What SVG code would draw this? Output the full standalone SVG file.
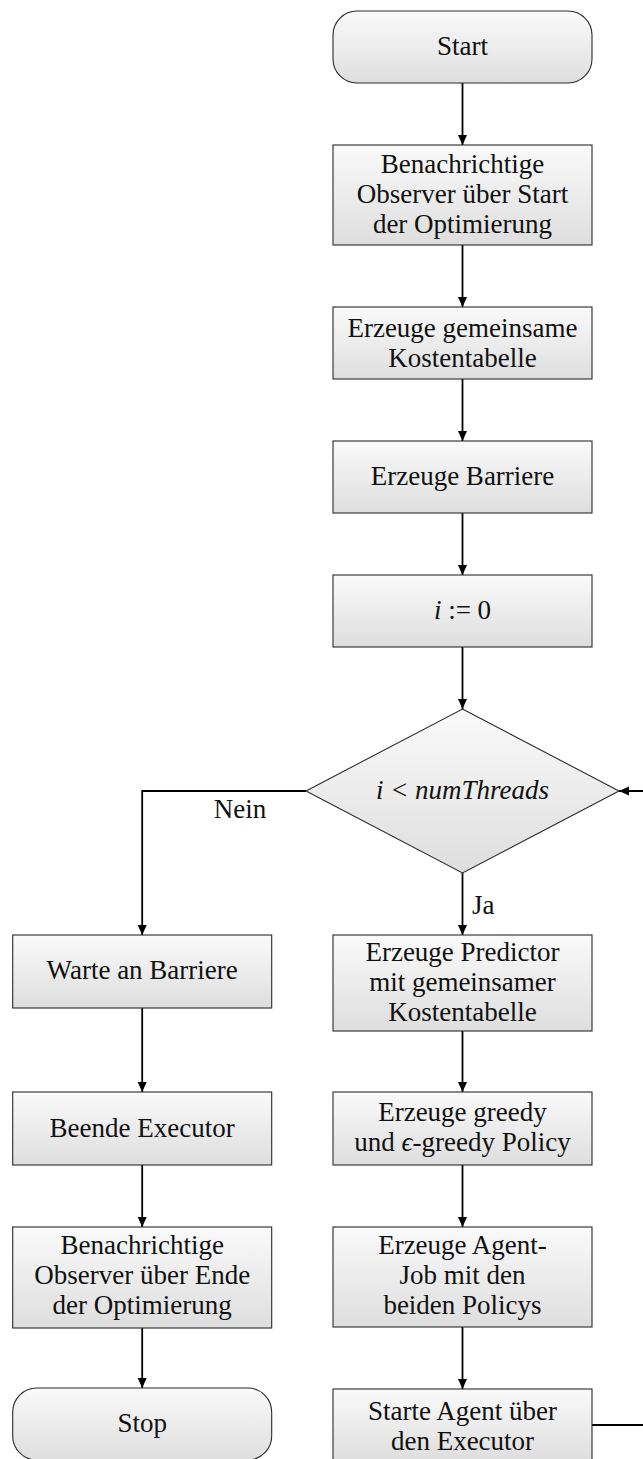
<svg xmlns="http://www.w3.org/2000/svg" width="643" height="1459" viewBox="0 0 643 1459">
  <defs>
    <linearGradient id="shade" x1="0" y1="0" x2="0" y2="1">
      <stop offset="0" stop-color="#fafafa"/>
      <stop offset="1" stop-color="#dedede"/>
    </linearGradient>
    <marker id="arrow" markerUnits="userSpaceOnUse" markerWidth="10" markerHeight="10" refX="10" refY="5" orient="auto">
      <path d="M0,0.5 L10,5 L0,9.5 Z" fill="#000"/>
    </marker>
  </defs>
  <style>
    .box { fill: url(#shade); stroke: #2a2a2a; stroke-width: 1.1; }
    .lbl { font-size: 27px; fill: #111; text-anchor: middle; }
    .it { font-style: italic; }
    .edge { fill: none; stroke: #000; stroke-width: 1.8; marker-end: url(#arrow); }
  </style>
  <rect width="643" height="1459" fill="#fff"/>

  <g font-family="'Liberation Serif', serif">
  <!-- flow arrows and branch labels -->
  <g id="connectors">
    <path class="edge" d="M462.5,83 V145"/>
    <path class="edge" d="M462.5,245 V307"/>
    <path class="edge" d="M462.5,379 V441"/>
    <path class="edge" d="M462.5,513 V575"/>
    <path class="edge" d="M462.5,647 V709"/>
    <path class="edge" d="M462.5,873 V935"/>
    <path class="edge" d="M306,791 H142.2 V935"/>
    <path class="edge" d="M142.2,1008 V1092"/>
    <path class="edge" d="M142.2,1165 V1227"/>
    <path class="edge" d="M142.2,1328 V1388"/>
    <path class="edge" d="M462.5,1031 V1092"/>
    <path class="edge" d="M462.5,1165 V1227"/>
    <path class="edge" d="M462.5,1327 V1389"/>
    <!-- loop back to the condition -->
    <path class="edge" d="M592,1425 H660 V791 H619"/>
    <text class="lbl" x="240" y="818">Nein</text>
    <text class="lbl" x="472" y="914" style="text-anchor:start">Ja</text>
  </g>

  <g id="start">
    <rect class="box" x="333" y="11" width="259" height="72" rx="24" ry="24"/>
    <text class="lbl" x="462.5" y="55">Start</text>
  </g>

  <g id="notify-start">
    <rect class="box" x="333" y="145" width="259" height="100"/>
    <text class="lbl" x="462.5" y="173">Benachrichtige</text>
    <text class="lbl" x="462.5" y="203">Observer über Start</text>
    <text class="lbl" x="462.5" y="233">der Optimierung</text>
  </g>

  <g id="create-table">
    <rect class="box" x="333" y="307" width="259" height="72"/>
    <text class="lbl" x="462.5" y="337">Erzeuge gemeinsame</text>
    <text class="lbl" x="462.5" y="367">Kostentabelle</text>
  </g>

  <g id="create-barrier">
    <rect class="box" x="333" y="441" width="259" height="72"/>
    <text class="lbl" x="462.5" y="485">Erzeuge Barriere</text>
  </g>

  <g id="init-i">
    <rect class="box" x="333" y="575" width="259" height="72"/>
    <text class="lbl" x="462.5" y="619"><tspan class="it">i</tspan> := 0</text>
  </g>

  <g id="decision">
    <polygon class="box" points="462.5,709 619,791 462.5,873 306,791"/>
    <text class="lbl it" x="462.5" y="799">i &lt; numThreads</text>
  </g>

  <g id="create-predictor">
    <rect class="box" x="333" y="935" width="259" height="96"/>
    <text class="lbl" x="462.5" y="961">Erzeuge Predictor</text>
    <text class="lbl" x="462.5" y="991">mit gemeinsamer</text>
    <text class="lbl" x="462.5" y="1021">Kostentabelle</text>
  </g>

  <g id="create-policies">
    <rect class="box" x="333" y="1092" width="259" height="73"/>
    <text class="lbl" x="462.5" y="1121">Erzeuge greedy</text>
    <text class="lbl" x="462.5" y="1151">und <tspan class="it">ϵ</tspan>-greedy Policy</text>
  </g>

  <g id="create-job">
    <rect class="box" x="333" y="1227" width="259" height="100"/>
    <text class="lbl" x="462.5" y="1254">Erzeuge Agent-</text>
    <text class="lbl" x="462.5" y="1284">Job mit den</text>
    <text class="lbl" x="462.5" y="1314">beiden Policys</text>
  </g>

  <g id="start-agent">
    <rect class="box" x="333" y="1389" width="259" height="72"/>
    <text class="lbl" x="462.5" y="1420">Starte Agent über</text>
    <text class="lbl" x="462.5" y="1450">den Executor</text>
  </g>

  <g id="wait-barrier">
    <rect class="box" x="12.7" y="935" width="259" height="73"/>
    <text class="lbl" x="142.2" y="979">Warte an Barriere</text>
  </g>

  <g id="stop-executor">
    <rect class="box" x="12.7" y="1092" width="259" height="73"/>
    <text class="lbl" x="142.2" y="1137">Beende Executor</text>
  </g>

  <g id="notify-end">
    <rect class="box" x="12.7" y="1227" width="259" height="101"/>
    <text class="lbl" x="142.2" y="1254">Benachrichtige</text>
    <text class="lbl" x="142.2" y="1284">Observer über Ende</text>
    <text class="lbl" x="142.2" y="1314">der Optimierung</text>
  </g>

  <g id="stop">
    <rect class="box" x="12.7" y="1388" width="259" height="72" rx="24" ry="24"/>
    <text class="lbl" x="142.2" y="1432">Stop</text>
  </g>
  </g>
</svg>
